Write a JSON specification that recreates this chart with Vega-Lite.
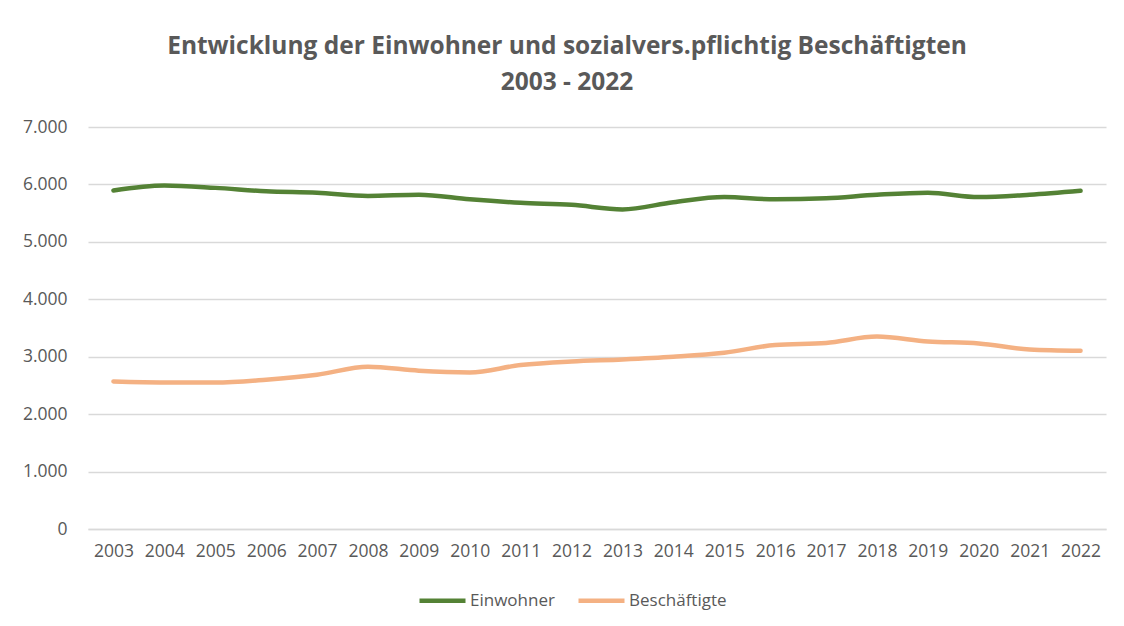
{
  "$schema": "https://vega.github.io/schema/vega-lite/v6.json",
  "autosize": "none",
  "width": 1018,
  "height": 402,
  "padding": {"left": 88, "top": 127, "right": 18, "bottom": 97},
  "background": "white",
  "title": {
    "text": ["Entwicklung der Einwohner und sozialvers.pflichtig Beschäftigten", "2003 - 2022"],
    "font": "Open Sans",
    "fontSize": 24.5,
    "fontWeight": "bold",
    "color": "#595959",
    "lineHeight": 36,
    "anchor": "middle",
    "dx": -30,
    "offset": 23
  },
  "data": {
    "values": [
      {"Jahr": "2003", "Reihe": "Einwohner", "Wert": 5895},
      {"Jahr": "2004", "Reihe": "Einwohner", "Wert": 5980},
      {"Jahr": "2005", "Reihe": "Einwohner", "Wert": 5940},
      {"Jahr": "2006", "Reihe": "Einwohner", "Wert": 5880},
      {"Jahr": "2007", "Reihe": "Einwohner", "Wert": 5855},
      {"Jahr": "2008", "Reihe": "Einwohner", "Wert": 5800},
      {"Jahr": "2009", "Reihe": "Einwohner", "Wert": 5820},
      {"Jahr": "2010", "Reihe": "Einwohner", "Wert": 5740},
      {"Jahr": "2011", "Reihe": "Einwohner", "Wert": 5680},
      {"Jahr": "2012", "Reihe": "Einwohner", "Wert": 5645},
      {"Jahr": "2013", "Reihe": "Einwohner", "Wert": 5565},
      {"Jahr": "2014", "Reihe": "Einwohner", "Wert": 5690},
      {"Jahr": "2015", "Reihe": "Einwohner", "Wert": 5780},
      {"Jahr": "2016", "Reihe": "Einwohner", "Wert": 5740},
      {"Jahr": "2017", "Reihe": "Einwohner", "Wert": 5760},
      {"Jahr": "2018", "Reihe": "Einwohner", "Wert": 5820},
      {"Jahr": "2019", "Reihe": "Einwohner", "Wert": 5855},
      {"Jahr": "2020", "Reihe": "Einwohner", "Wert": 5780},
      {"Jahr": "2021", "Reihe": "Einwohner", "Wert": 5820},
      {"Jahr": "2022", "Reihe": "Einwohner", "Wert": 5890},
      {"Jahr": "2003", "Reihe": "Beschäftigte", "Wert": 2570},
      {"Jahr": "2004", "Reihe": "Beschäftigte", "Wert": 2553},
      {"Jahr": "2005", "Reihe": "Beschäftigte", "Wert": 2550},
      {"Jahr": "2006", "Reihe": "Beschäftigte", "Wert": 2600},
      {"Jahr": "2007", "Reihe": "Beschäftigte", "Wert": 2686},
      {"Jahr": "2008", "Reihe": "Beschäftigte", "Wert": 2826},
      {"Jahr": "2009", "Reihe": "Beschäftigte", "Wert": 2756},
      {"Jahr": "2010", "Reihe": "Beschäftigte", "Wert": 2727},
      {"Jahr": "2011", "Reihe": "Beschäftigte", "Wert": 2855},
      {"Jahr": "2012", "Reihe": "Beschäftigte", "Wert": 2918},
      {"Jahr": "2013", "Reihe": "Beschäftigte", "Wert": 2953},
      {"Jahr": "2014", "Reihe": "Beschäftigte", "Wert": 3000},
      {"Jahr": "2015", "Reihe": "Beschäftigte", "Wert": 3070},
      {"Jahr": "2016", "Reihe": "Beschäftigte", "Wert": 3204},
      {"Jahr": "2017", "Reihe": "Beschäftigte", "Wert": 3240},
      {"Jahr": "2018", "Reihe": "Beschäftigte", "Wert": 3350},
      {"Jahr": "2019", "Reihe": "Beschäftigte", "Wert": 3267},
      {"Jahr": "2020", "Reihe": "Beschäftigte", "Wert": 3232},
      {"Jahr": "2021", "Reihe": "Beschäftigte", "Wert": 3127},
      {"Jahr": "2022", "Reihe": "Beschäftigte", "Wert": 3105}
    ]
  },
  "mark": {"type": "line", "interpolate": "monotone", "strokeWidth": 4.5, "strokeCap": "round"},
  "encoding": {
    "x": {
      "field": "Jahr",
      "type": "ordinal",
      "title": null,
      "axis": {
        "labelAngle": 0,
        "labelFont": "Open Sans",
        "labelFontSize": 17.5,
        "labelColor": "#595959",
        "labelPadding": 13,
        "ticks": false,
        "domainColor": "#d9d9d9",
        "domainWidth": 1.5,
        "grid": false
      }
    },
    "y": {
      "field": "Wert",
      "type": "quantitative",
      "title": null,
      "scale": {"domain": [0, 7000]},
      "axis": {
        "values": [0, 1000, 2000, 3000, 4000, 5000, 6000, 7000],
        "labelExpr": "replace(format(datum.value, ','), ',', '.')",
        "labelFont": "Open Sans",
        "labelFontSize": 17.5,
        "labelColor": "#595959",
        "labelPadding": 21,
        "ticks": false,
        "domain": false,
        "grid": true,
        "gridColor": "#d9d9d9",
        "gridWidth": 1.5
      }
    },
    "color": {
      "field": "Reihe",
      "type": "nominal",
      "sort": ["Einwohner", "Beschäftigte"],
      "scale": {"domain": ["Einwohner", "Beschäftigte"], "range": ["#548235", "#F4B183"]},
      "legend": {
        "title": null,
        "orient": "none",
        "legendX": 329,
        "legendY": 448,
        "padding": 0,
        "direction": "horizontal",
        "symbolType": "stroke",
        "symbolSize": 2116,
        "symbolStrokeWidth": 4.5,
        "labelFont": "Open Sans",
        "labelFontSize": 17,
        "labelColor": "#595959",
        "labelOffset": 2,
        "columnPadding": 14
      }
    }
  },
  "config": {"view": {"stroke": null}}
}
